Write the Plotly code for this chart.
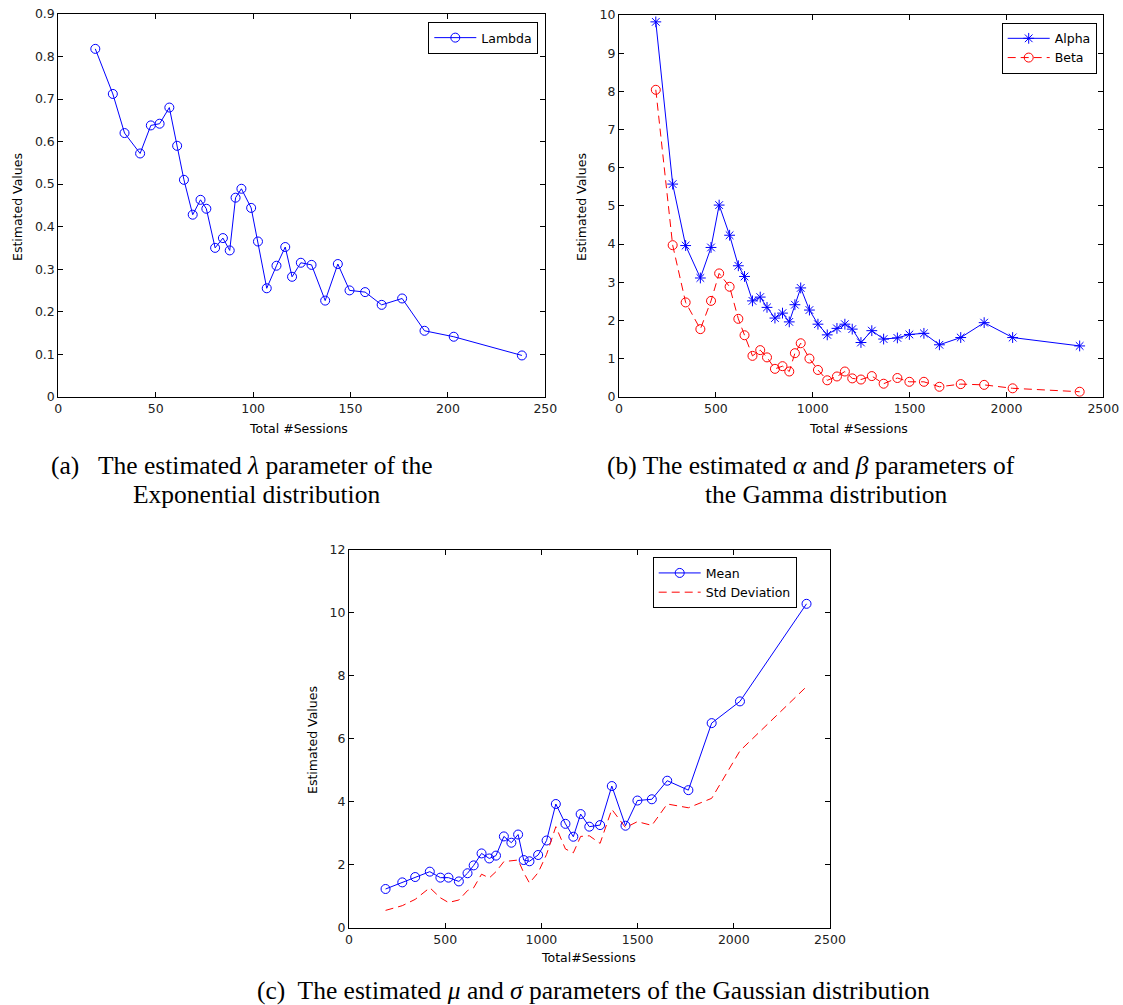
import plotly.graph_objects as go

# ---------------- data ----------------
# (a) Exponential distribution
lam_sessions = [19, 28, 34, 42, 47.5, 52, 57, 61, 64.5, 69, 73, 76, 80.5, 84.5, 88, 91, 94,
                99, 102.5, 107, 112, 116.5, 120, 124.5, 130, 137, 143.5, 149.5, 157.5, 166,
                176.5, 188, 203, 238]
lam_values = [0.818, 0.712, 0.620, 0.572, 0.638, 0.642, 0.680, 0.590, 0.510, 0.428, 0.463,
              0.442, 0.350, 0.373, 0.344, 0.468, 0.489, 0.444, 0.365, 0.255, 0.308, 0.352,
              0.282, 0.315, 0.310, 0.226, 0.312, 0.250, 0.246, 0.216, 0.231, 0.155, 0.141,
              0.097]

# (b) Gamma and (c) Gaussian share the session counts
sessions = [190, 277, 344, 420, 475, 517, 571, 616, 648, 689, 729, 764, 805, 844, 879, 908,
            938, 983, 1027, 1075, 1125, 1166, 1204, 1249, 1305, 1366, 1437, 1499, 1574, 1654,
            1764, 1885, 2032, 2378]
alpha_values = [9.82, 5.57, 3.96, 3.11, 3.91, 5.02, 4.23, 3.43, 3.15, 2.51, 2.61, 2.34, 2.06,
                2.19, 1.96, 2.41, 2.85, 2.27, 1.90, 1.62, 1.79, 1.90, 1.77, 1.42, 1.73, 1.51,
                1.54, 1.63, 1.66, 1.36, 1.55, 1.94, 1.55, 1.33]
beta_values = [8.04, 3.97, 2.47, 1.77, 2.51, 3.23, 2.88, 2.04, 1.61, 1.07, 1.22, 1.03, 0.73,
               0.80, 0.66, 1.14, 1.40, 1.00, 0.70, 0.43, 0.53, 0.66, 0.48, 0.45, 0.54, 0.34,
               0.49, 0.39, 0.39, 0.26, 0.33, 0.31, 0.22, 0.13]
mean_values = [1.23, 1.44, 1.61, 1.78, 1.59, 1.59, 1.47, 1.73, 1.98, 2.36, 2.20, 2.29, 2.90,
               2.70, 2.96, 2.15, 2.11, 2.31, 2.77, 3.93, 3.30, 2.89, 3.61, 3.21, 3.26, 4.50,
               3.24, 4.04, 4.08, 4.67, 4.37, 6.50, 7.19, 10.29]
std_values = [0.55, 0.70, 0.90, 1.27, 0.95, 0.80, 0.88, 1.18, 1.27, 1.70, 1.58, 1.78, 2.10,
              2.12, 2.15, 1.75, 1.42, 1.75, 2.33, 3.21, 2.50, 2.38, 2.90, 2.92, 2.68, 3.76,
              3.18, 3.37, 3.25, 3.93, 3.81, 4.11, 5.62, 7.66]

# ---------------- styling ----------------
W, H = 1123, 1005
SANS = "DejaVu Sans"
SERIF = "Liberation Serif"
BLUE = "rgb(0,0,255)"
RED = "rgb(255,0,0)"
DASH = "8px,5px"


def px(x):
    return x / W


def py(y):
    return 1 - y / H


axis_common = dict(
    showline=True, linecolor="black", linewidth=1, mirror="ticks",
    ticks="inside", ticklen=5, tickwidth=1, tickcolor="black",
    showgrid=False, zeroline=False, automargin=False,
    tickfont=dict(family=SANS, size=12.5, color="#222"),
)

fig = go.Figure()

# (a)
fig.add_trace(go.Scatter(
    x=lam_sessions, y=lam_values, name="Lambda", mode="lines+markers",
    line=dict(color=BLUE, width=1),
    marker=dict(symbol="circle-open", size=9, color=BLUE, line=dict(width=1, color=BLUE)),
    xaxis="x", yaxis="y", legend="legend"))

# (b)
fig.add_trace(go.Scatter(
    x=sessions, y=alpha_values, name="Alpha", mode="lines+markers",
    line=dict(color=BLUE, width=1),
    marker=dict(symbol="asterisk-open", size=9, color=BLUE, line=dict(width=1, color=BLUE)),
    xaxis="x2", yaxis="y2", legend="legend2"))
fig.add_trace(go.Scatter(
    x=sessions, y=beta_values, name="Beta", mode="lines+markers",
    line=dict(color=RED, width=1, dash=DASH),
    marker=dict(symbol="circle-open", size=9, color=RED, line=dict(width=1, color=RED)),
    xaxis="x2", yaxis="y2", legend="legend2"))

# (c)
fig.add_trace(go.Scatter(
    x=sessions, y=mean_values, name="Mean", mode="lines+markers",
    line=dict(color=BLUE, width=1),
    marker=dict(symbol="circle-open", size=9, color=BLUE, line=dict(width=1, color=BLUE)),
    xaxis="x3", yaxis="y3", legend="legend3"))
fig.add_trace(go.Scatter(
    x=sessions, y=std_values, name="Std Deviation", mode="lines",
    line=dict(color=RED, width=1, dash=DASH),
    xaxis="x3", yaxis="y3", legend="legend3"))

legend_common = dict(
    bgcolor="white", bordercolor="black", borderwidth=1,
    font=dict(family=SANS, size=12.5, color="black"),
    xanchor="right", yanchor="top", tracegroupgap=0, itemwidth=42,
)

fig.update_layout(
    width=W, height=H,
    margin=dict(l=0, r=0, t=0, b=0, autoexpand=False),
    paper_bgcolor="white", plot_bgcolor="white",
    showlegend=True,
    xaxis=dict(domain=[px(58.3), px(545.3)], range=[0, 250], dtick=50, anchor="y", **axis_common),
    yaxis=dict(domain=[py(396.7), py(14)], range=[0, 0.9], dtick=0.1, anchor="x", **axis_common),
    xaxis2=dict(domain=[px(619), px(1103.3)], range=[0, 2500], dtick=500, tickformat="d",
                anchor="y2", **axis_common),
    yaxis2=dict(domain=[py(396.7), py(15)], range=[0, 10], dtick=1, anchor="x2", **axis_common),
    xaxis3=dict(domain=[px(349), px(830)], range=[0, 2500], dtick=500, tickformat="d",
                anchor="y3", **axis_common),
    yaxis3=dict(domain=[py(927.7), py(550)], range=[0, 12], dtick=2, anchor="x3", **axis_common),
    legend=dict(x=px(538.3), y=py(22), **legend_common),
    legend2=dict(x=px(1096.7), y=py(22.7), **legend_common),
    legend3=dict(x=px(796.7), y=py(557.3), **legend_common),
)

ann = []


def label(text, x, y, size, family, angle=0):
    ann.append(dict(text=text, x=px(x), y=py(y), xref="paper", yref="paper",
                    xanchor="center", yanchor="middle", showarrow=False, textangle=angle,
                    font=dict(family=family, size=size, color="black")))


# axis titles
label("Estimated Values", 17, 207, 12.5, SANS, -90)
label("Total #Sessions", 298, 428, 12.5, SANS)
label("Estimated Values", 581, 207, 12.5, SANS, -90)
label("Total #Sessions", 858, 428, 12.5, SANS)
label("Estimated Values", 312, 740, 12.5, SANS, -90)
label("Total#Sessions", 588, 957, 12.5, SANS)

# captions
CAP = 25.5
label("(a)   The estimated <i>λ</i> parameter of the", 242, 465, CAP, SERIF)
label("Exponential distribution", 256, 494, CAP, SERIF)
label("(b) The estimated <i>α</i> and <i>β</i> parameters of", 811, 465, CAP, SERIF)
label("the Gamma distribution", 826, 494, CAP, SERIF)
label("(c)  The estimated <i>μ</i> and <i>σ</i> parameters of the Gaussian distribution",
      593, 990, CAP, SERIF)

fig.update_layout(annotations=ann)

fig.write_html("out.html")
